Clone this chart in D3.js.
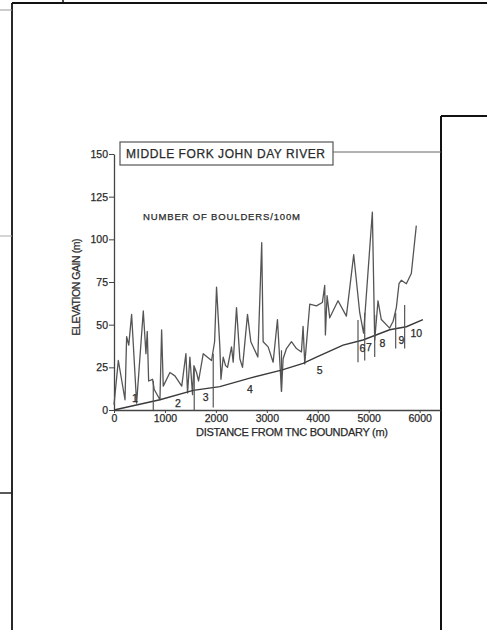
<!DOCTYPE html>
<meta charset="utf-8">
<script src="https://d3js.org/d3.v7.min.js"></script>
<style>
  body { margin: 0; background: #fff; }
  text { font-family: "Liberation Sans", Arial, sans-serif; fill: #2a2a2a; stroke: #2a2a2a; stroke-width: 0.25px; }
</style>
<div id="my_dataviz"></div>
<script>

  // boulders per 100 m along the reach (distance in m, count)
  const boulderX = [0, 85, 216, 248, 290, 346, 444, 575, 627, 653, 680, 758, 790, 902, 935, 967,
    1098, 1196, 1330, 1412, 1444, 1490, 1542, 1569, 1620, 1660, 1752, 1915, 1975, 2013, 2078, 2100,
    2144, 2190, 2229, 2307, 2340, 2405, 2471, 2523, 2621, 2686, 2824, 2900, 2928, 3026, 3124, 3209,
    3288, 3320, 3386, 3484, 3582, 3680, 3712, 3745, 3843, 3974, 4091, 4137, 4150, 4183, 4235, 4398,
    4562, 4706, 4824, 4900, 5072, 5118, 5183, 5248, 5412, 5480, 5543, 5595, 5640, 5739, 5837, 5935];
  const boulderY = [3, 29, 6, 43, 38, 56, 4, 58, 33, 46, 17, 18, 12, 6, 47, 14,
    22, 20, 14, 33, 10, 31, 9, 26, 22, 17, 33, 29, 40, 72, 37, 18,
    31, 26, 25, 37, 28, 60, 30, 25, 56, 40, 31, 98, 40, 37, 28, 53,
    11, 30, 36, 40, 36, 34, 49, 27, 62, 61, 63, 73, 44, 67, 54, 64,
    55, 91, 57, 45, 116, 41, 64, 53, 48, 52, 60, 74, 76, 74, 80, 108];

  // elevation gain profile
  const elevX = [0, 902, 1555, 2078, 2667, 3288, 3712, 3974, 4497, 4888, 5412, 5739, 6065];
  const elevY = [0, 6, 11.5, 13.7, 18.7, 23.4, 27.3, 31, 38, 41, 47, 48.8, 53];

  // reach boundaries: distance, bottom, top
  const reachX = [771, 1575, 1948, 3288, 4790, 4922, 5118, 5530, 5706];
  const reachLow = [0, 0, 1.5, 10.7, 28, 29, 31, 36, 36];
  const reachHigh = [17, 24, 33, 35, 52.7, 57, 55.6, 57, 61.5];

  // reach numbers
  const reachNames = ["1", "2", "3", "4", "5", "6", "7", "8", "9", "10"];
  const labelX = [412, 1255, 1799, 2667, 4039, 4876, 5006, 5268, 5641, 5935];
  const labelY = [7, 4, 7.6, 12.3, 23.4, 36, 37, 39, 41, 45];

  const xTicks = [0, 1000, 2000, 3000, 4000, 5000, 6000];
  const yTicks = [0, 25, 50, 75, 100, 125, 150];

  const width = 487, height = 630;

  const svg = d3.select("#my_dataviz")
    .append("svg")
      .attr("width", width)
      .attr("height", height);

  // page frame lines of the scanned sheet
  const frame = [
    [12, 3, 487, 3, "#111", 1.8],
    [12, 3, 12, 630, "#111", 1.8],
    [63, 0, 63, 3, "#111", 1.5],
    [0, 10, 12, 10, "#999", 1],
    [0, 236, 12, 236, "#aaa", 1],
    [0, 493, 12, 493, "#222", 1.5],
    [441, 116, 487, 116, "#111", 1.8],
    [441, 116, 441, 630, "#111", 2]
  ];
  svg.selectAll("line.frame")
    .data(frame)
    .join("line")
      .attr("class", "frame")
      .attr("x1", d => d[0]).attr("y1", d => d[1])
      .attr("x2", d => d[2]).attr("y2", d => d[3])
      .attr("stroke", d => d[4])
      .attr("stroke-width", d => d[5]);

  // scales
  var x = d3.scaleLinear()
      .domain([0, 6400])
      .range([114, 440]);
  var y = d3.scaleLinear()
      .domain([0, 150])
      .range([410, 154]);

  // axes
  var xAxis = svg.append("g")
      .attr("transform", "translate(0," + y(0) + ")")
      .call(d3.axisBottom(x).tickValues(xTicks).tickFormat(d3.format("d")).tickSize(3).tickSizeOuter(0));
  var yAxis = svg.append("g")
      .attr("transform", "translate(" + x(0) + ",0)")
      .call(d3.axisLeft(y).tickValues(yTicks).tickSize(5).tickSizeOuter(0));

  [xAxis, yAxis].forEach(function(g) {
    g.select(".domain").attr("stroke", "#444").attr("stroke-width", 1.3);
    g.selectAll(".tick line").attr("stroke", "#444");
    g.selectAll(".tick text")
      .style("font-family", "'Liberation Sans', Arial, sans-serif")
      .style("font-size", "10.5px")
      .attr("fill", "#2a2a2a");
  });
  xAxis.selectAll(".tick text").attr("dy", "0.55em");
  yAxis.selectAll(".tick text").attr("x", -6);

  // title box and the line to the right edge
  svg.append("rect")
      .attr("x", 120).attr("y", 142)
      .attr("width", 213).attr("height", 23)
      .attr("fill", "#fff")
      .attr("stroke", "#555")
      .attr("stroke-width", 1.2);
  svg.append("line")
      .attr("x1", 333).attr("y1", 152)
      .attr("x2", 441).attr("y2", 152)
      .attr("stroke", "#666");
  svg.append("text")
      .attr("x", 126).attr("y", 158)
      .attr("textLength", 199)
      .style("font-size", "12px")
      .text("MIDDLE FORK JOHN DAY RIVER");

  svg.append("text")
      .attr("x", 143).attr("y", 220)
      .attr("textLength", 157)
      .style("font-size", "9.5px")
      .text("NUMBER OF BOULDERS/100M");

  // axis titles
  svg.append("text")
      .attr("transform", "translate(80,287) rotate(-90)")
      .attr("text-anchor", "middle")
      .attr("textLength", 97)
      .style("font-size", "10.5px")
      .text("ELEVATION GAIN (m)");
  svg.append("text")
      .attr("x", 196).attr("y", 436)
      .attr("textLength", 192)
      .style("font-size", "11px")
      .text("DISTANCE FROM TNC BOUNDARY (m)");

  // boulder counts
  var line = d3.line()
      .x(function(d) { return x(d[0]); })
      .y(function(d) { return y(d[1]); });

  svg.append("path")
      .datum(d3.zip(boulderX, boulderY))
      .attr("fill", "none")
      .attr("stroke", "#555")
      .attr("stroke-width", 1.3)
      .attr("stroke-linejoin", "round")
      .attr("d", line);

  // elevation profile
  svg.append("path")
      .datum(d3.zip(elevX, elevY))
      .attr("fill", "none")
      .attr("stroke", "#3a3a3a")
      .attr("stroke-width", 1.4)
      .attr("d", line);

  // reach boundaries
  svg.selectAll("line.reach")
    .data(d3.zip(reachX, reachLow, reachHigh))
    .join("line")
      .attr("class", "reach")
      .attr("x1", d => x(d[0])).attr("x2", d => x(d[0]))
      .attr("y1", d => y(d[1])).attr("y2", d => y(d[2]))
      .attr("stroke", "#555")
      .attr("stroke-width", 1.2);

  svg.selectAll("text.reachname")
    .data(d3.zip(reachNames, labelX, labelY))
    .join("text")
      .attr("class", "reachname")
      .attr("x", d => x(d[1]))
      .attr("y", d => y(d[2]))
      .attr("text-anchor", "middle")
      .attr("dy", "0.35em")
      .style("font-size", "10.5px")
      .text(d => d[0]);

</script>
